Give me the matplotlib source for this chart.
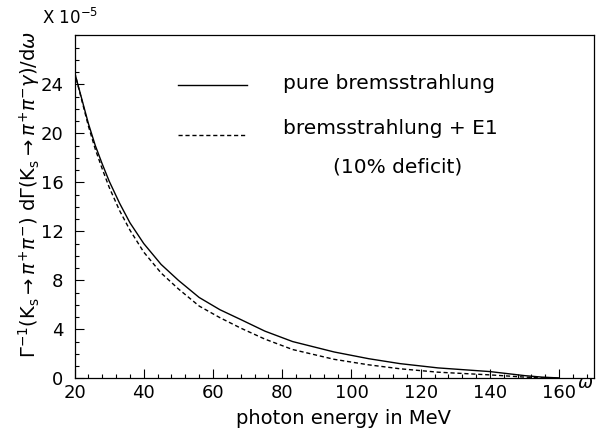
import matplotlib
matplotlib.use("Agg")
import matplotlib.pyplot as plt
from matplotlib.ticker import MultipleLocator

plt.rcParams['font.family'] = ['DejaVu Sans']
plt.rcParams['mathtext.fontset'] = 'dejavusans'

omega = [20, 22, 24, 26, 28, 30, 33, 36, 40, 45, 50, 56, 62, 68, 75, 83,
         95, 105, 114, 125, 140, 150, 155, 160]
pure_brems = [25.0, 22.9, 20.8, 19.0, 17.5, 16.1, 14.3, 12.7, 11.0, 9.3, 8.0,
              6.6, 5.6, 4.8, 3.85, 3.0, 2.15, 1.6, 1.2, 0.85, 0.55, 0.22,
              0.1, 0.03]
brems_e1 = [25.0, 22.8, 20.6, 18.7, 17.1, 15.6, 13.7, 12.1, 10.3, 8.6, 7.3,
            5.9, 4.95, 4.1, 3.2, 2.35, 1.55, 1.1, 0.78, 0.5, 0.28, 0.1,
            0.04, 0.0]

x_ticks = [20, 40, 60, 80, 100, 120, 140, 160]
y_ticks = [0, 4, 8, 12, 16, 20, 24]

fig = plt.figure(figsize=(6.01, 4.34), dpi=100)
ax = fig.add_axes([0.124, 0.1283, 0.864, 0.7904])

ax.plot(omega, pure_brems, color='black', lw=1.0)
ax.plot(omega, brems_e1, color='black', lw=1.0, dashes=(3, 2))

ax.set_xlim(20, 170)
ax.set_ylim(0, 28)
ax.set_xticks(x_ticks)
ax.set_yticks(y_ticks)
ax.xaxis.set_minor_locator(MultipleLocator(4))
ax.yaxis.set_minor_locator(MultipleLocator(1))
ax.tick_params(which='both', direction='in', top=False, right=False,
               labelsize=13, width=0.8)
ax.tick_params(which='major', length=6.5)
ax.tick_params(which='minor', length=3)
ax.tick_params(axis='y', pad=8)
ax.tick_params(axis='x', pad=4)
for s in ax.spines.values():
    s.set_linewidth(0.9)

# legend
ax.plot([0.199, 0.332], [0.855, 0.855], color='black', lw=1.0,
        transform=ax.transAxes)
ax.plot([0.199, 0.332], [0.709, 0.709], color='black', lw=1.0,
        dashes=(3, 2), transform=ax.transAxes)
ax.text(0.401, 0.86, "pure bremsstrahlung", transform=ax.transAxes,
        fontsize=14.5, va='center', ha='left')
ax.text(0.401, 0.727, "bremsstrahlung + E1", transform=ax.transAxes,
        fontsize=14.5, va='center', ha='left')
ax.text(0.497, 0.616, "(10% deficit)", transform=ax.transAxes,
        fontsize=14.5, va='center', ha='left')

fig.text(344 / 601, 1 - 418 / 434, "photon energy in MeV", fontsize=14,
         ha='center', va='center')
fig.text(585 / 601, 1 - 383 / 434, r"$\omega$", fontsize=13,
         ha='center', va='center')
fig.text(42 / 601, 1 - 18 / 434, r"X 10$^{-5}$", fontsize=12,
         ha='left', va='center')
fig.text(29 / 601, 1 - 194 / 434,
         r"$\Gamma^{-1}(\mathrm{K_s} \rightarrow \pi^{+}\pi^{-})\ \mathrm{d}\Gamma(\mathrm{K_s} \rightarrow \pi^{+}\pi^{-}\gamma)/\mathrm{d}\omega$",
         fontsize=14, rotation=90, ha='center', va='center')

fig.savefig("out.png", dpi=100)
